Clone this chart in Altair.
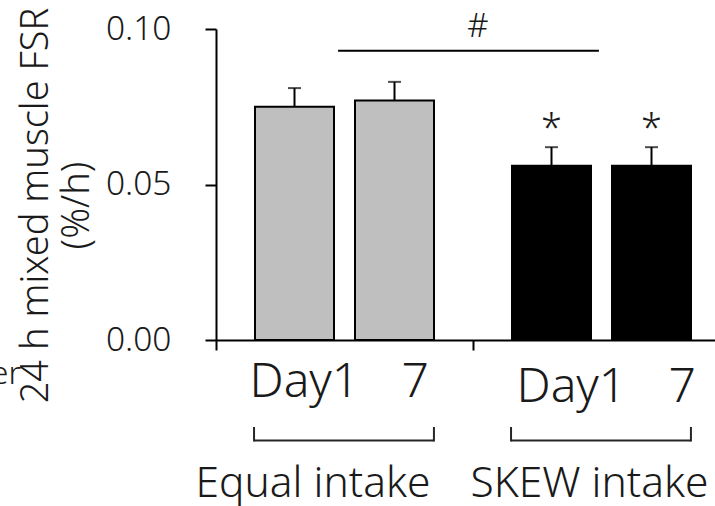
import altair as alt
import pandas as pd

# ---- data ----
groups = ["Equal intake", "Equal intake", "SKEW intake", "SKEW intake"]
days = ["Day1", "7", "Day1", "7"]
fsr = [0.075, 0.077, 0.056, 0.056]
sem = [0.006, 0.006, 0.006, 0.006]
stars = ["", "", "*", "*"]
group_names = ["Equal intake", "SKEW intake"]
day_text = ["Day1\u00a0\u00a0\u00a0\u200a7", "Day1\u00a0\u00a0\u00a0\u200a7"]
y_ticks = [0.00, 0.05, 0.10]
y_title = ["24 h mixed muscle FSR", "(%/h)"]
sig_from = ["Equal intake"]
sig_to = ["SKEW intake"]
sig_level = [0.093]
sig_label = ["#"]
fill_colors = ["#BFBFBF", "#000000"]

FONT = "Noto Sans"
FW = 300
TXT = "#1a1a1a"

df = pd.DataFrame({"group": groups, "day": days, "fsr": fsr, "sem": sem, "star": stars})
df["top"] = df["fsr"] + df["sem"]
df_sig = pd.DataFrame({"group": sig_from, "group_end": sig_to, "fsr": sig_level, "label": sig_label})
df_lab = pd.DataFrame({"group": group_names, "days": day_text})
df_er = pd.DataFrame({"t": ["er"]})

xscale = alt.Scale(domain=group_names, range=[0, 514], paddingInner=0, paddingOuter=0)
x_axis = alt.Axis(labels=False, title=None, bandPosition=0, tickSize=10, tickWidth=2,
                  tickColor="black", domainColor="black", domainWidth=2, grid=False)
yscale = alt.Scale(domain=[0, 0.1])
y_axis = alt.Axis(values=y_ticks, format=".2f", grid=False, tickSize=11, tickWidth=2,
                  tickColor="black", domainColor="black", domainWidth=2,
                  labelFontSize=33.5, labelColor=TXT, labelPadding=34, labelFont=FONT,
                  labelFontWeight=FW,
                  title=y_title, titleFont=FONT, titleFontSize=38, titleFontWeight=FW,
                  titleColor=TXT, titleAngle=270, titleX=-169, titleY=176,
                  titleBaseline="alphabetic", titleAlign="center", titleLineHeight=41)

X = alt.X("group:N", scale=xscale, axis=x_axis)
XO = alt.XOffset("day:N", sort=["Day1", "7"], scale=alt.Scale(paddingInner=0.21, paddingOuter=0.39))

bars = alt.Chart(df).mark_bar(stroke="black", strokeWidth=2).encode(
    x=X, xOffset=XO,
    y=alt.Y("fsr:Q", scale=yscale, axis=y_axis),
    color=alt.Color("group:N", scale=alt.Scale(domain=group_names, range=fill_colors), legend=None),
)
err = alt.Chart(df).mark_rule(color="black", strokeWidth=2).encode(
    x=X, xOffset=XO,
    y=alt.Y("fsr:Q", scale=yscale, axis=y_axis), y2="top:Q",
)
caps = alt.Chart(df).mark_tick(color="black", thickness=2, size=13).encode(
    x=X, xOffset=XO,
    y=alt.Y("top:Q", scale=yscale, axis=y_axis),
)
star_text = alt.Chart(df).mark_text(font=FONT, fontWeight=FW, fontSize=38, baseline="alphabetic", dy=-6, color=TXT).encode(
    x=X, xOffset=XO,
    y=alt.Y("top:Q", scale=yscale, axis=y_axis),
    text="star:N",
)
sig_line = alt.Chart(df_sig).mark_rule(color="black", strokeWidth=2).encode(
    x=alt.X("group:N", scale=xscale, axis=x_axis, bandPosition=0.475),
    x2=alt.X2("group_end:N", bandPosition=0.49),
    y=alt.Y("fsr:Q", scale=yscale, axis=y_axis),
)
sig_text = alt.Chart(df_sig).mark_text(font=FONT, fontWeight=FW, fontSize=33, baseline="alphabetic", dx=5, dy=-14, color=TXT).encode(
    x=alt.X("group_end:N", scale=xscale, axis=x_axis, bandPosition=0),
    y=alt.Y("fsr:Q", scale=yscale, axis=y_axis),
    text="label:N",
)

label_layers = []
for g, ddx, gdx, yb in [(group_names[0], -95, -149, 368), (group_names[1], -85, -131, 373)]:
    label_layers.append(
        alt.Chart(df_lab).transform_filter(alt.datum.group == g).mark_text(
            font=FONT, fontWeight=FW, fontSize=48, baseline="alphabetic", align="left", dx=ddx, color=TXT
        ).encode(x=X, y=alt.value(yb), text="days:N")
    )
    label_layers.append(
        alt.Chart(df_lab).transform_filter(alt.datum.group == g).mark_text(
            font=FONT, fontWeight=FW, fontSize=42.5, baseline="alphabetic", align="left", dx=gdx, color=TXT
        ).encode(x=X, y=alt.value(468), text="group:N")
    )

br_h = alt.Chart(df_lab).mark_rule(color="#262626", strokeWidth=2).encode(
    x=alt.X("group:N", scale=xscale, axis=x_axis, bandPosition=0.148),
    x2=alt.X2("group:N", bandPosition=0.848),
    y=alt.value(411.5),
)
br_l = alt.Chart(df_lab).mark_rule(color="#262626", strokeWidth=2).encode(
    x=alt.X("group:N", scale=xscale, axis=x_axis, bandPosition=0.148),
    y=alt.value(398), y2=alt.value(412.5),
)
br_r = alt.Chart(df_lab).mark_rule(color="#262626", strokeWidth=2).encode(
    x=alt.X("group:N", scale=xscale, axis=x_axis, bandPosition=0.848),
    y=alt.value(398), y2=alt.value(412.5),
)
er_text = alt.Chart(df_er).mark_text(font=FONT, fontWeight=FW, fontSize=32, align="right", baseline="alphabetic", color=TXT).encode(
    x=alt.value(-195), y=alt.value(355), text="t:N",
)

chart = alt.layer(
    bars, err, caps, star_text, sig_line, sig_text, *label_layers, br_h, br_l, br_r, er_text
).properties(
    width=499, height=311,
    padding={"left": 216, "top": 29, "right": 0, "bottom": 166},
    autosize=alt.AutoSizeParams(type="none"),
).configure_view(stroke=None)

chart.save("out.html", embed_options={"renderer": "svg", "actions": False})
